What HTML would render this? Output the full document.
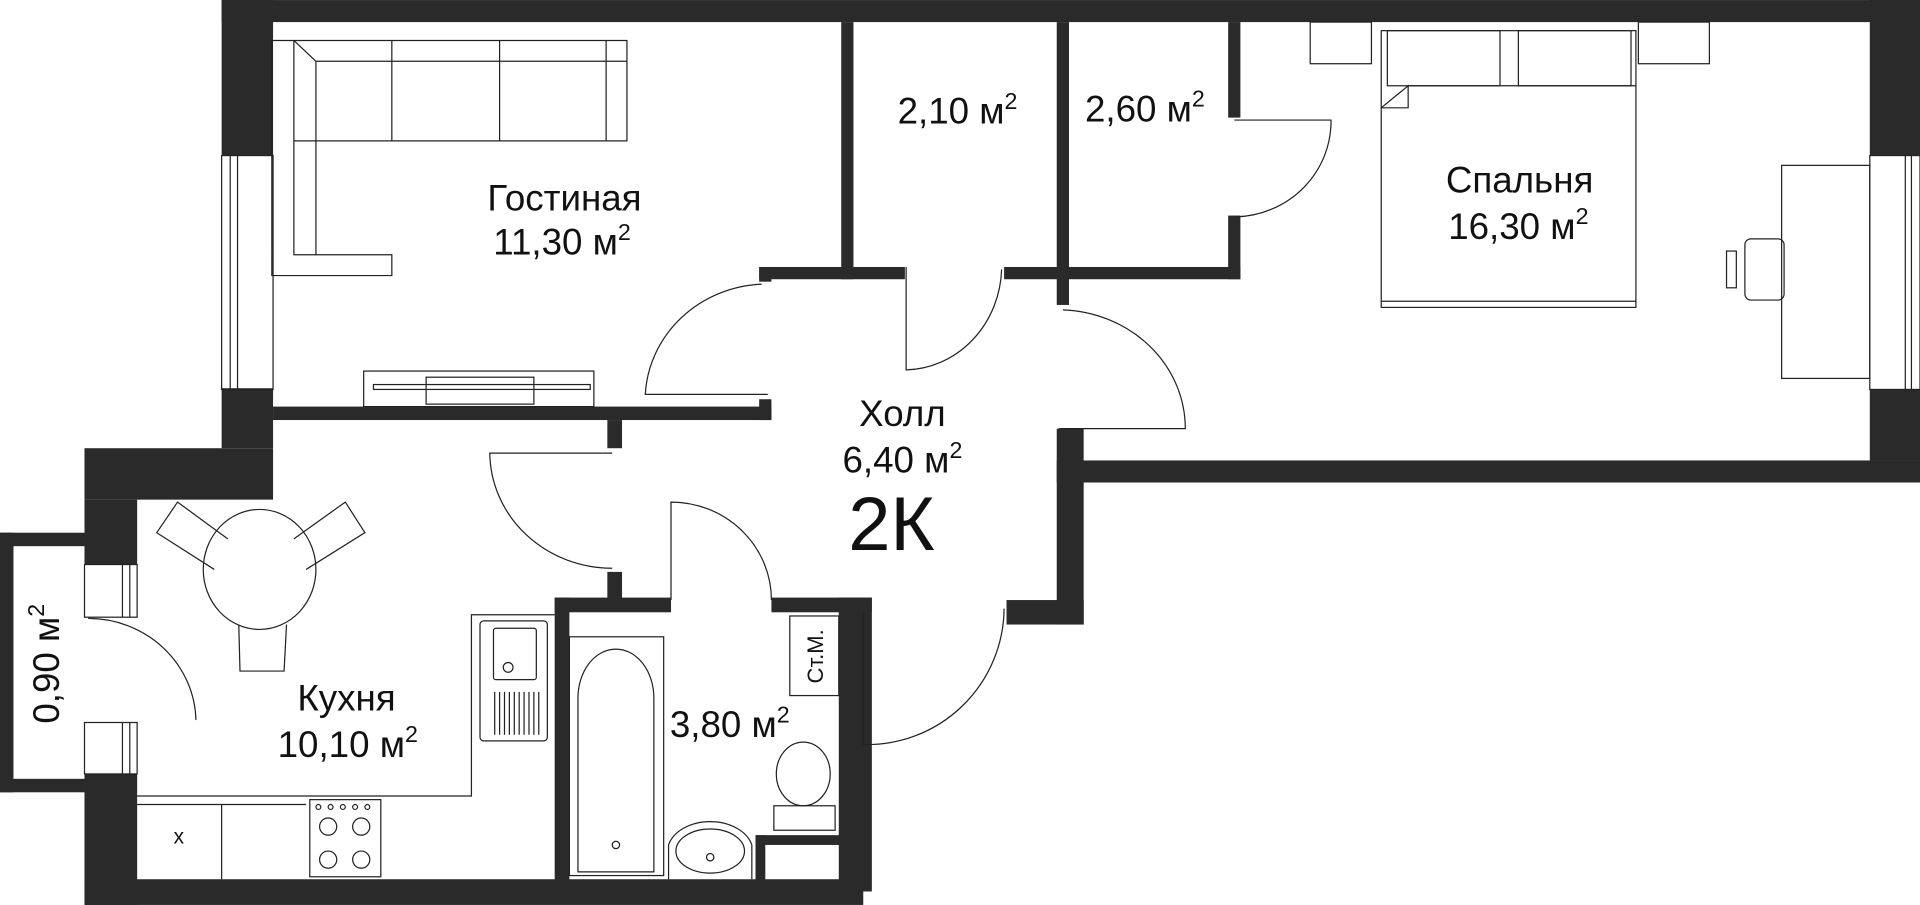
<!DOCTYPE html>
<html><head><meta charset="utf-8"><style>
html,body{margin:0;padding:0;background:#fff;}
svg{display:block;}
text{font-family:"Liberation Sans",sans-serif;fill:#111;}
</style></head><body>
<svg width="1920" height="905" viewBox="0 0 1568 739" xmlns="http://www.w3.org/2000/svg">
<g fill="#2a2a2a">
<rect x="181" y="0" width="1387" height="18"/>
<rect x="181" y="0" width="42" height="127"/>
<rect x="181" y="317" width="42" height="49"/>
<rect x="1527" y="0" width="41" height="127"/>
<rect x="1527" y="318" width="41" height="58"/>
<rect x="863" y="376" width="705" height="18"/>
<rect x="863" y="350" width="22" height="160"/>
<rect x="822" y="490" width="63" height="20"/>
<rect x="687" y="18" width="10" height="210"/>
<rect x="863" y="18" width="10" height="231"/>
<rect x="1003" y="18" width="10" height="78"/>
<rect x="1003" y="176" width="10" height="52"/>
<rect x="620" y="218" width="119" height="10"/>
<rect x="620" y="218" width="10" height="12"/>
<rect x="820" y="218" width="193" height="10"/>
<rect x="223" y="332" width="407" height="11"/>
<rect x="620" y="326" width="10" height="17"/>
<rect x="496" y="343" width="12" height="23"/>
<rect x="69" y="366" width="154" height="42"/>
<rect x="69" y="408" width="43" height="53"/>
<rect x="69" y="632" width="43" height="107"/>
<rect x="69" y="718" width="636" height="21"/>
<rect x="496" y="467" width="12" height="23"/>
<rect x="453" y="488" width="95" height="12"/>
<rect x="630" y="488" width="82" height="12"/>
<rect x="453" y="488" width="12" height="240"/>
<rect x="685" y="488" width="27" height="240"/>
<rect x="617" y="682" width="72" height="8"/>
<rect x="617" y="682" width="8" height="40"/>
<rect x="0" y="435" width="69" height="11"/>
<rect x="0" y="435" width="11" height="212"/>
<rect x="0" y="636" width="69" height="11"/>
</g>
<g fill="none" stroke="#222" stroke-width="1">
<rect x="181" y="127" width="42" height="191"/><line x1="188" y1="127" x2="188" y2="318"/><line x1="194" y1="127" x2="194" y2="318"/>
<rect x="1527" y="127" width="41" height="191"/><line x1="1556" y1="127" x2="1556" y2="318"/><line x1="1561" y1="127" x2="1561" y2="318"/>
<rect x="69" y="461" width="43" height="43"/><line x1="100" y1="461" x2="100" y2="504"/><line x1="106" y1="461" x2="106" y2="504"/>
<rect x="69" y="590" width="43" height="42"/><line x1="100" y1="590" x2="100" y2="632"/><line x1="106" y1="590" x2="106" y2="632"/>
<path d="M627,322 L527,322 A100 95 0 0 1 622,232"/>
<path d="M500,370 L400,370 A100 95 0 0 0 500,464"/>
<path d="M740,218 L740,302 A80 85 0 0 0 818,220"/>
<path d="M865,350 L968,350 A104 97 0 0 0 868,253"/>
<path d="M1008,98 L1087,98 A80 78 0 0 1 1010,177"/>
<path d="M548,490 L548,410 A82 80 0 0 1 630,490"/>
<path d="M820,497 A112 112 0 0 1 705,608 L705,500"/>
<path d="M72,505 A88 85 0 0 1 160,588"/>
<!-- sofa L -->
<path d="M240,33 L512,33 L512,115 L258,115 L258,208 L320,208 L320,225 L222,225 L222,33 Z"/>
<path d="M258,50 L512,50 M258,50 L258,115 M240,33 L258,50 M240,33 L240,208 L258,208 M240,115 L258,115"/>
<path d="M320,33 V50 M408,33 V50 M495,33 V115"/>
<path d="M320,50 V115 M408,50 V115"/>
<rect x="297" y="303" width="188" height="29"/>
<rect x="348" y="308" width="88" height="22"/>
<rect x="305" y="314" width="177" height="4"/>
<rect x="1070" y="18" width="50" height="34"/><rect x="1338" y="18" width="58" height="34"/>
<rect x="1128" y="25" width="208" height="226"/>
<rect x="1133" y="25" width="92" height="45"/><rect x="1240" y="25" width="92" height="45"/>
<path d="M1150,70 L1336,70 M1128,88 L1150,70 L1150,88 L1128,88 M1128,246 L1336,246"/>
<rect x="1455" y="135" width="72" height="174"/>
<rect x="1425" y="195" width="32" height="50" rx="5"/>
<rect x="1410" y="205" width="8" height="30"/>
<ellipse cx="212" cy="465" rx="46" ry="49"/>
<path d="M186,440 L145,410 L128,435 L175,465"/>
<path d="M240,440 L282,410 L298,435 L250,465"/>
<path d="M195,510 L196,548 L232,548 L234,510"/>
<path d="M112,650 L385,650 L385,502 L453,502"/>
<rect x="392" y="507" width="55" height="98" rx="3"/>
<rect x="403" y="513" width="35" height="42" rx="2"/>
<circle cx="415" cy="545" r="4"/>
<path d="M404,565 V600 M408,565 V600 M412,565 V600 M416,565 V600 M420,565 V600 M424,565 V600 M428,565 V600 M432,565 V600 M436,565 V600 M440,565 V600"/>
<line x1="112" y1="657" x2="250" y2="657"/>
<line x1="181" y1="657" x2="181" y2="718"/>
<rect x="253" y="653" width="58" height="63"/>
<circle cx="268" cy="675" r="7"/><circle cx="295" cy="675" r="7"/><circle cx="268" cy="702" r="7"/><circle cx="295" cy="702" r="7"/>
<circle cx="260" cy="659" r="2"/><circle cx="270" cy="659" r="2"/><circle cx="280" cy="659" r="2"/><circle cx="290" cy="659" r="2"/><circle cx="300" cy="659" r="2"/>
<rect x="465" y="520" width="77" height="195"/>
<path d="M472,712 L472,570 A31 40 0 0 1 534,570 L534,712 Z"/>
<circle cx="503" cy="690" r="3"/>
<path d="M546,718 L546,690 A35 25 0 0 1 614,690 L614,718"/>
<ellipse cx="580" cy="695" rx="28" ry="18"/><circle cx="580" cy="700" r="3"/>
<ellipse cx="656" cy="632" rx="22" ry="26"/>
<rect x="632" y="658" width="50" height="20"/>
<rect x="645" y="503" width="40" height="65"/>
</g>
<text transform="translate(672,536) rotate(-90)" font-size="18" text-anchor="middle">Ст.М.</text>
<text x="146" y="689" font-size="17" text-anchor="middle">x</text>
<g font-size="30" text-anchor="middle">
<text x="461" y="172">Гостиная</text>
<text x="459" y="208">11,30 м<tspan font-size="19" dy="-12">2</tspan></text>
<text x="782" y="101">2,10 м<tspan font-size="19" dy="-12">2</tspan></text>
<text x="935" y="99">2,60 м<tspan font-size="19" dy="-12">2</tspan></text>
<text x="1241" y="157">Спальня</text>
<text x="1240" y="195">16,30 м<tspan font-size="19" dy="-12">2</tspan></text>
<text x="737" y="348">Холл</text>
<text x="737" y="386">6,40 м<tspan font-size="19" dy="-12">2</tspan></text>
<text x="283" y="580">Кухня</text>
<text x="284" y="618">10,10 м<tspan font-size="19" dy="-12">2</tspan></text>
<text x="596" y="602">3,80 м<tspan font-size="19" dy="-12">2</tspan></text>
<text transform="translate(48,542) rotate(-90)">0,90 м<tspan font-size="19" dy="-12">2</tspan></text>
</g>
<text x="728" y="449" font-size="62" text-anchor="middle">2К</text>
</svg>
</body></html>
